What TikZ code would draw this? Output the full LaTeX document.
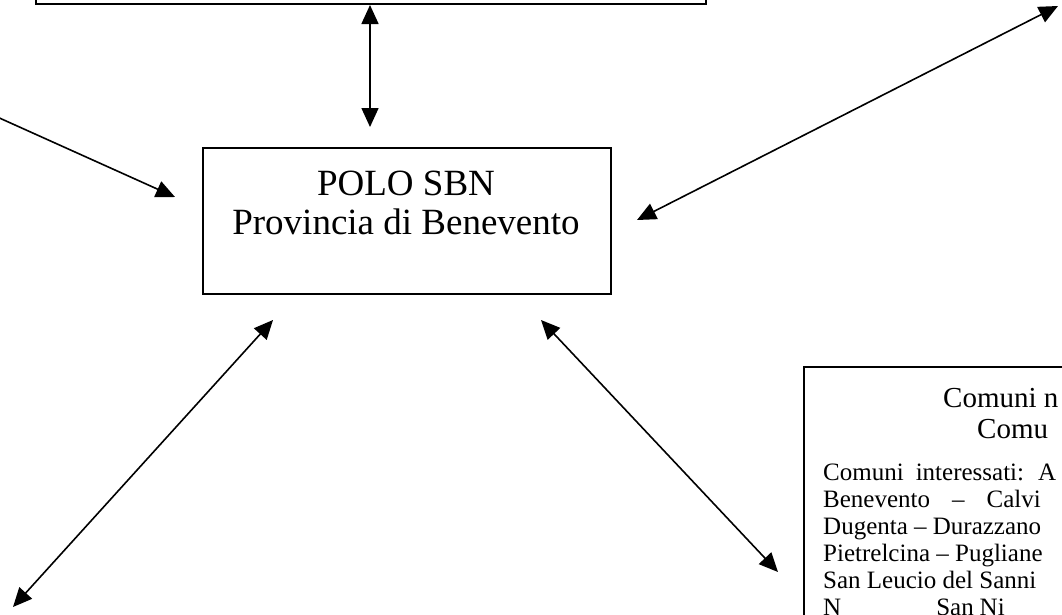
\documentclass[tikz,border=0pt]{standalone}
\usepackage{fontspec}
\setmainfont{Liberation Serif}
\usetikzlibrary{arrows.meta}
\begin{document}
\begin{tikzpicture}[x=1pt,y=-1pt,
  tip/.tip={Triangle[length=19pt,width=17pt]},
  conn/.style={line width=1.6pt,{tip}-{tip}},
  oneway/.style={line width=1.6pt,-{tip}},
  boxline/.style={draw,line width=2.2pt,inner sep=0pt},
  poloText/.style={font=\fontsize{37}{40}\selectfont,anchor=base,inner sep=0pt},
  titleText/.style={font=\fontsize{29}{32}\selectfont,anchor=base west,inner sep=0pt},
  bodyText/.style={font=\fontsize{25}{27}\selectfont,anchor=base west,inner sep=0pt}]
\useasboundingbox (0,0) rectangle (1062,614);
\fill[white] (0,0) rectangle (1062,614);

% boxes
\node[boxline,minimum width=670pt,minimum height=120pt,anchor=south west] (topbox) at (35,5) {};
\node[boxline,minimum width=408pt,minimum height=146pt,anchor=north west] (polo) at (202,147) {};
\node[poloText] (polo1) at (406,195) {POLO SBN};
\node[poloText] (polo2) at (406,234) {Provincia di Benevento};
\node[boxline,minimum width=320pt,minimum height=320pt,anchor=north west] (comuni) at (803,366) {};

% comuni text
\node[titleText] (t1) at (943,407) {Comuni n};
\node[titleText] (t2) at (977,438) {Comu};
\node[bodyText] (b1) at (823,480) {Comuni\hspace{12pt}interessati:\hspace{14pt}A};
\node[bodyText] (b2) at (823,507) {Benevento\hspace{22pt}--\hspace{22pt}Calvi};
\node[bodyText] (b3) at (823,534) {Dugenta -- Durazzano};
\node[bodyText] (b4) at (823,561) {Pietrelcina -- Pugliane};
\node[bodyText] (b5) at (823,588) {San Leucio del Sanni};
\node[bodyText] (b6) at (823,615) {N\hspace{95pt}San\hspace{6pt}Ni};

% connector ends
\coordinate (v1) at (370,5);
\coordinate (v2) at (370,127);
\coordinate (l1) at (-5,116);
\coordinate (l2) at (175,197);
\coordinate (r1) at (637,220);
\coordinate (r2) at (1058,6);
\coordinate (bl1) at (273,320);
\coordinate (bl2) at (13,607);
\coordinate (br1) at (541,320);
\coordinate (br2) at (778,572);

\draw[conn] (v1) -- (v2);
\draw[oneway] (l1) -- (l2);
\draw[conn] (r1) -- (r2);
\draw[conn] (bl1) -- (bl2);
\draw[conn] (br1) -- (br2);
\end{tikzpicture}
\end{document}
